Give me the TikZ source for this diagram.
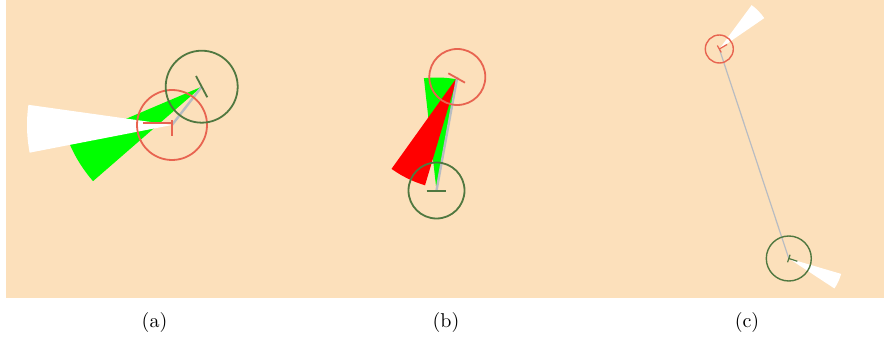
\documentclass[tikz,border=0pt]{standalone}
\usepackage{tikz}
\usetikzlibrary{calc}
\definecolor{floor}{RGB}{252,224,187}
\definecolor{robred}{RGB}{232,100,80}
\definecolor{robgreen}{RGB}{80,120,64}
\definecolor{link}{RGB}{184,188,194}
\begin{document}
\begin{tikzpicture}[x=0.5pt,y=0.5pt,line width=0.9pt]
    \useasboundingbox (0,0) rectangle (886,-341);
    \fill[floor](6,0) rectangle (884,-298);
    % (a)
    \coordinate (ra) at (172,-125);
    \coordinate (ga) at (201.7,-86.7);
    \fill[green](ga)--++(203:144) arc[start angle=203,end angle=221,radius=144]--cycle;
    \fill[white](ra)--++(172:145) arc[start angle=172,end angle=191,radius=145]--cycle;
    \draw[link,line width=1.2pt](ga)--(ra);
    \draw[robred](ra) circle (35);
    \draw[robgreen](ga) circle (36);
    \draw[robred](143.3,-123.3)--(171.7,-123.3);
    \draw[robred](171.7,-120)--(171.7,-136);
    \draw[robgreen](196,-76)--(207.3,-97.3);
    \node (la) at (154.5,-322) {(a)};
    % (b)
    \coordinate (rb) at (457.3,-77);
    \coordinate (gb) at (436.5,-190.5);
    \fill[green](gb)--++(80:113) arc[start angle=80,end angle=96.4,radius=113]--cycle;
    \fill[red](rb)--++(234.4:113) arc[start angle=234.4,end angle=253.4,radius=113]--cycle;
    \draw[link,line width=1.2pt](gb)--(rb);
    \draw[robred](rb) circle (28);
    \draw[robgreen](gb) circle (28);
    \draw[robred](448.3,-73.3)--(465,-82.7);
    \draw[robgreen](426.7,-191)--(446,-191);
    \node (lb) at (446,-322) {(b)};
    % (c)
    \coordinate (rc) at (719.3,-49);
    \coordinate (gc) at (788.8,-258.5);
    \fill[white](rc)--++(34.5:54.5) arc[start angle=34.5,end angle=53.6,radius=54.5]--cycle;
    \fill[white](gc)--++(-33.3:54.6) arc[start angle=-33.3,end angle=-16.4,radius=54.6]--cycle;
    \draw[link,line width=0.6pt](rc)--(gc);
    \draw[robred,line width=0.7pt](rc) circle (14);
    \draw[robgreen,line width=0.7pt](gc) circle (22.5);
    \foreach \c/\a/\col in {rc/30/robred,gc/-18/robgreen}
    {
        \draw[\col,line width=0.6pt](\c)--++(\a:9);
        \draw[\col,line width=0.6pt]($(\c)+(\a+90:4)$)--($(\c)+(\a-90:4)$);
    }
    \node (lc) at (747,-322) {(c)};
\end{tikzpicture}
\end{document}
